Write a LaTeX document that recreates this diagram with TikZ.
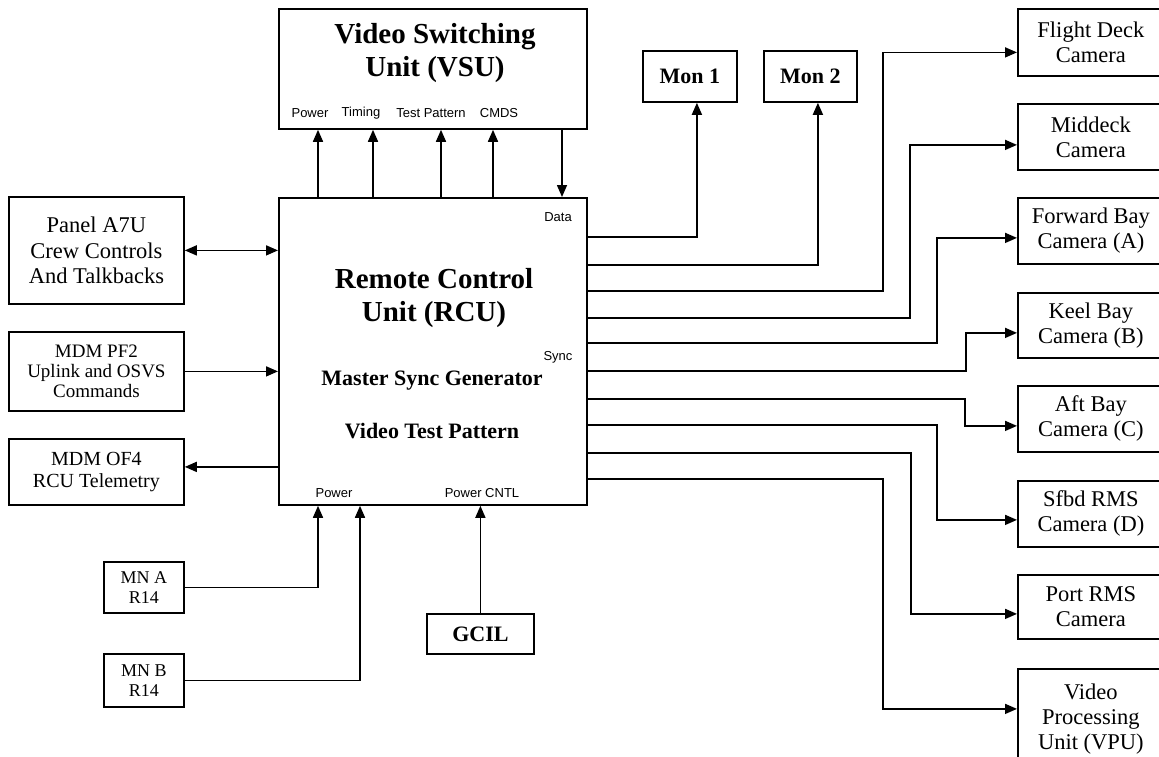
\documentclass[tikz,border=0pt]{standalone}
\usepackage{fontspec}
\setmainfont{Liberation Serif}
\setsansfont{Liberation Sans}
\usetikzlibrary{arrows.meta}
\begin{document}
\begin{tikzpicture}[x=1pt,y=-1pt,
  box/.style={draw, line width=1.8pt, rectangle, inner sep=0pt, anchor=north west, align=center},
  ln/.style={line width=1.6pt},
  arr/.style={ln, -{Triangle[length=12pt,width=10pt]}},
  dbl/.style={ln, {Triangle[length=12pt,width=10pt]}-{Triangle[length=12pt,width=10pt]}},
  title/.style={font=\fontsize{29}{33}\selectfont\bfseries, align=center, inner sep=0pt},
  sub/.style={font=\fontsize{22}{26}\selectfont\bfseries, inner sep=0pt, anchor=base},
  tinylbl/.style={font=\sffamily\fontsize{13}{14}\selectfont, inner sep=0pt},
  cam/.style={box, font=\fontsize{22.5}{25}\selectfont, minimum width=146pt},
  bbox/.style={box, font=\fontsize{22}{25}\selectfont\bfseries}
]
\path[fill=white] (0,0) rectangle (1159,757);
\useasboundingbox (0,0) rectangle (1159,757);

% VSU
\node[box, minimum width=308pt, minimum height=120pt] (VSU) at (278,8) {};
\node[title] (vsut) at (435,53) {Video Switching\\Unit (VSU)};
\node[tinylbl] (lpow) at (310,113) {Power};
\node[tinylbl] (ltim) at (361,113) {Timing};
\node[tinylbl] (ltp) at (431,113) {Test Pattern};
\node[tinylbl] (lcmd) at (499,113) {CMDS};

% RCU
\node[box, minimum width=308pt, minimum height=307pt] (RCU) at (278,197) {};
\node[title] (rcut) at (434,298) {Remote Control\\Unit (RCU)};
\node[sub] (msg) at (432,385) {Master Sync Generator};
\node[sub] (vtp) at (432,438) {Video Test Pattern};
\node[tinylbl] (ldata) at (558,217) {Data};
\node[tinylbl] (lsync) at (558,357) {Sync};
\node[tinylbl] (lpw2) at (334,493) {Power};
\node[tinylbl] (lpc) at (482,493) {Power CNTL};

% left boxes
\node[box, minimum width=175pt, minimum height=107pt, font=\fontsize{22.5}{25.5}\selectfont] (panel) at (8,196) {Panel A7U\\Crew Controls\\And Talkbacks};
\node[box, minimum width=175pt, minimum height=79pt, font=\fontsize{19}{20}\selectfont] (pf2) at (8,331) {MDM PF2\\Uplink and OSVS\\Commands};
\node[box, minimum width=175pt, minimum height=66pt, font=\fontsize{20}{22}\selectfont] (of4) at (8,438) {MDM OF4\\RCU Telemetry};
\node[box, minimum width=80pt, minimum height=51pt, font=\fontsize{18}{20}\selectfont] (mna) at (103,561) {MN A\\R14};
\node[box, minimum width=80pt, minimum height=53pt, font=\fontsize{18}{20}\selectfont] (mnb) at (103,653) {MN B\\R14};
\node[bbox, minimum width=107pt, minimum height=40pt] (gcil) at (426,613) {GCIL};

% monitors
\node[bbox, minimum width=94pt, minimum height=51pt] (mon1) at (642,50) {Mon 1};
\node[bbox, minimum width=93pt, minimum height=51pt] (mon2) at (763,50) {Mon 2};

% cameras
\node[cam, minimum height=67pt] (cfd) at (1017,8) {Flight Deck\\Camera};
\node[cam, minimum height=66pt] (cmd) at (1017,103) {Middeck\\Camera};
\node[cam, minimum height=66pt] (cfb) at (1017,197) {Forward Bay\\Camera (A)};
\node[cam, minimum height=65pt] (ckb) at (1017,292) {Keel Bay\\Camera (B)};
\node[cam, minimum height=66pt] (cab) at (1017,385) {Aft Bay\\Camera (C)};
\node[cam, minimum height=66pt] (csr) at (1017,480) {Sfbd RMS\\Camera (D)};
\node[cam, minimum height=64pt] (cpr) at (1017,574) {Port RMS\\Camera};
\node[cam, minimum height=100pt] (vpu) at (1017,668) {Video\\Processing\\Unit (VPU)};

% RCU -> VSU
\draw[arr] ([xshift=40pt]RCU.north west) -- ([xshift=40pt]VSU.south west);
\draw[arr] ([xshift=95pt]RCU.north west) -- ([xshift=95pt]VSU.south west);
\draw[arr] ([xshift=163pt]RCU.north west) -- ([xshift=163pt]VSU.south west);
\draw[arr] ([xshift=215pt]RCU.north west) -- ([xshift=215pt]VSU.south west);
\draw[arr] ([xshift=284pt]VSU.south west) -- ([xshift=284pt]RCU.north west);

% left connections
\draw[dbl] (panel.east) -- (panel.east -| RCU.west);
\draw[arr] (pf2.east) -- (pf2.east -| RCU.west);
\coordinate (of4a) at ([yshift=5pt]of4.east);
\draw[arr] (of4a -| RCU.west) -- (of4a);

% power
\draw[arr] (mna.east) -| ([xshift=40pt]RCU.south west);
\draw[arr] (mnb.east) -| ([xshift=82pt]RCU.south west);
\draw[arr] (gcil.north) -- (gcil.north |- RCU.south);

% monitors
\draw[arr] ([yshift=-40pt]RCU.north east) -| ([xshift=7pt]mon1.south);
\draw[arr] ([yshift=-68pt]RCU.north east) -| ([xshift=7.5pt]mon2.south);

% cameras
\draw[arr] ([yshift=-94pt]RCU.north east) -| ([xshift=-134pt,yshift=-10pt]cfd.west) -- ([yshift=-10pt]cfd.west);
\draw[arr] ([yshift=-121pt]RCU.north east) -| ([xshift=-107pt,yshift=-8pt]cmd.west) -- ([yshift=-8pt]cmd.west);
\draw[arr] ([yshift=-146pt]RCU.north east) -| ([xshift=-80pt,yshift=-7pt]cfb.west) -- ([yshift=-7pt]cfb.west);
\draw[arr] ([yshift=-174pt]RCU.north east) -| ([xshift=-51pt,yshift=-7.5pt]ckb.west) -- ([yshift=-7.5pt]ckb.west);
\draw[arr] ([yshift=-202pt]RCU.north east) -| ([xshift=-52pt,yshift=-7pt]cab.west) -- ([yshift=-7pt]cab.west);
\draw[arr] ([yshift=-228pt]RCU.north east) -| ([xshift=-80pt,yshift=-6pt]csr.west) -- ([yshift=-6pt]csr.west);
\draw[arr] ([yshift=-256pt]RCU.north east) -| ([xshift=-106pt,yshift=-7pt]cpr.west) -- ([yshift=-7pt]cpr.west);
\draw[arr] ([yshift=-282pt]RCU.north east) -| ([xshift=-134pt,yshift=10pt]vpu.west) -- ([yshift=10pt]vpu.west);
\end{tikzpicture}
\end{document}
